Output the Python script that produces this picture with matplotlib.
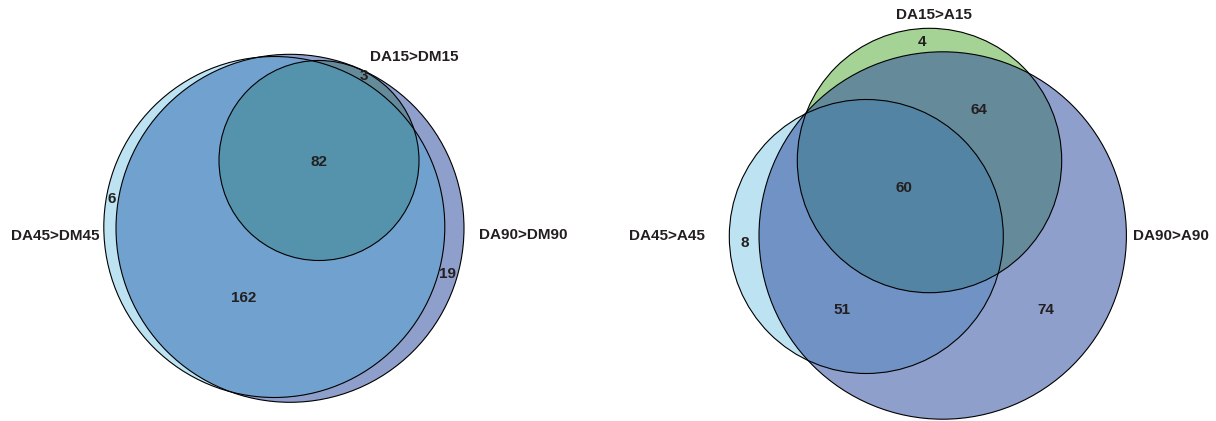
import matplotlib

matplotlib.use("Agg")

import matplotlib.pyplot as plt
from matplotlib.patches import Circle

# ---- data: set names and region counts for each diagram ----
left_sets = ["DA45>DM45", "DA90>DM90", "DA15>DM15"]
left_region_keys = ["45", "45&90", "45&90&15", "90&15", "90"]
left_region_counts = [6, 162, 82, 3, 19]

right_sets = ["DA45>A45", "DA90>A90", "DA15>A15"]
right_region_keys = ["15", "15&90", "15&45&90", "45", "45&90", "90"]
right_region_counts = [4, 64, 60, 8, 51, 74]

# ---- layout (canvas pixels, y pointing down) ----
# circle order per panel: DA45, DA90, DA15
left_centers = [(274.3, 227.0), (290.0, 228.3), (319.0, 160.5)]
left_radii = [170.5, 174.0, 100.0]
left_set_label_pos = [(55, 236), (523, 235), (414, 57)]
left_count_pos = [(111.5, 199), (244, 297.5), (319, 162.5), (364, 75.5), (447, 274.5)]

right_centers = [(866.3, 236.5), (942.7, 235.5), (929.5, 160.5)]
right_radii = [137.0, 183.7, 132.2]
right_set_label_pos = [(667, 236), (1170.5, 236), (934, 15)]
right_count_pos = [(921.5, 42.5), (978.5, 110), (903.5, 188), (744.5, 243), (841.5, 309.5), (1046, 309.5)]

# ---- styles ----
COL_45 = "#34A8DA"
COL_90 = "#2E4C9E"
COL_15 = "#4DA72D"
ALPHA = {"45": 0.32, "90": 0.535, "15": 0.5}
TEXT_COL = "#231F20"
FONT = ["Liberation Sans", "DejaVu Sans"]

# stacking order differs between the two panels
left_draw_order = [2, 1, 0]   # DA15, DA90, DA45
right_draw_order = [2, 0, 1]  # DA15, DA45, DA90
set_colors = [COL_45, COL_90, COL_15]
set_alphas = [ALPHA["45"], ALPHA["90"], ALPHA["15"]]


def draw_venn(ax, centers, radii, order, set_names, name_pos, counts, count_pos):
    for i in order:
        ax.add_patch(Circle(centers[i], radii[i], facecolor=set_colors[i],
                            alpha=set_alphas[i], edgecolor="none", zorder=1 + order.index(i)))
    for c, r in zip(centers, radii):
        ax.add_patch(Circle(c, r, fill=False, edgecolor="black", linewidth=0.8, zorder=5))

    for name, (x, y) in zip(set_names, name_pos):
        ax.text(x, y, name, ha="center", va="center", fontsize=11,
                fontweight="bold", color=TEXT_COL, family=FONT, zorder=6)
    for n, (x, y) in zip(counts, count_pos):
        ax.text(x, y, str(n), ha="center", va="center", fontsize=11,
                fontweight="bold", color=TEXT_COL, family=FONT, zorder=6)


fig = plt.figure(figsize=(12.16, 4.21), dpi=100)
ax = fig.add_axes([0, 0, 1, 1])
ax.set_xlim(0, 1216)
ax.set_ylim(421, 0)
ax.axis("off")

draw_venn(ax, left_centers, left_radii, left_draw_order, left_sets,
          left_set_label_pos, left_region_counts, left_count_pos)
draw_venn(ax, right_centers, right_radii, right_draw_order, right_sets,
          right_set_label_pos, right_region_counts, right_count_pos)

fig.savefig("out.png", dpi=100)
